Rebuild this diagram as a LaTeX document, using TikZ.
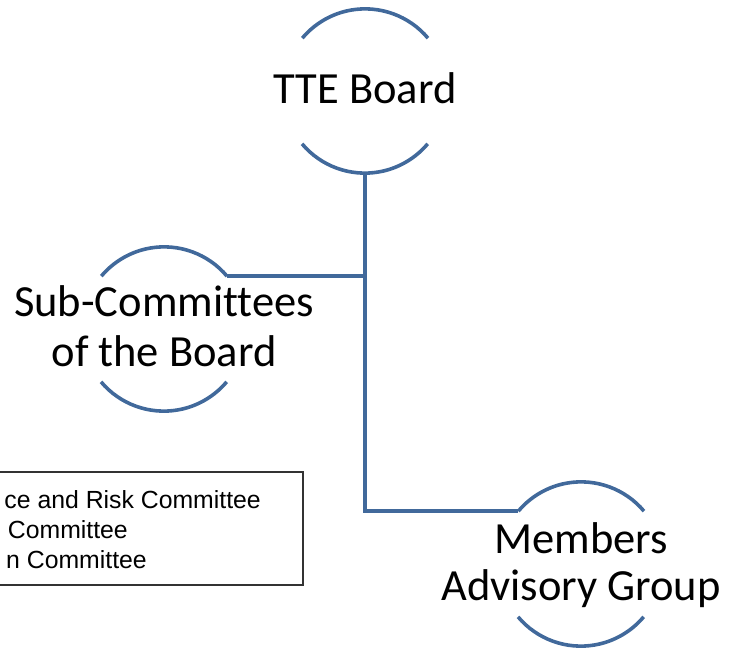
\documentclass[tikz,border=0pt]{standalone}
\usepackage{fontspec}
\setmainfont{Carlito}[Ligatures=NoCommon]
\newfontfamily\arialfont{Liberation Sans}
\definecolor{orgblue}{RGB}{65,105,155}
\begin{document}
\begin{tikzpicture}[x=1pt,y=1pt,
  ring/.style={circle,minimum size=164pt,inner sep=0pt},
  rim/.style={draw=orgblue,line width=3.6pt},
  link/.style={draw=orgblue,line width=3.6pt},
  label/.style={inner sep=0pt,anchor=base,font=\fontsize{44.5}{48}\selectfont},
  listtext/.style={inner sep=0pt,anchor=base east,font=\arialfont\fontsize{24.8}{30}\selectfont},
]
\useasboundingbox (0,0) rectangle (729,649);
\clip (0,0) rectangle (729,649);

% circles holding the three groups
\node[ring] (tte) at (365,558) {};
\node[ring] (sub) at (164,320) {};
\node[ring] (mag) at (581,85) {};

% open arcs above and below each group
\foreach \n in {tte,sub,mag}{
  \draw[rim] (\n.40) arc[start angle=40,end angle=140,radius=82pt];
  \draw[rim] (\n.220) arc[start angle=220,end angle=320,radius=82pt];
}

% group titles
\node[label] (tteA) at (365,545) {TTE Board};
\node[label] (subA) at (164,332) {Sub-Committees};
\node[label] (subB) at (164,282) {of the Board};
\node[label] (magA) at (581,96) {Members};
\node[label] (magB) at (581,49) {Advisory Group};

% reporting lines
\draw[link] (tte.south) |- (mag.140);
\draw[link] (sub.40) -- (sub.40 -| tte.south);

% list of committees
\node[draw=black!80,line width=1.2pt,minimum width=312pt,minimum height=113pt,inner sep=0pt] (box) at (147,120.5) {};
\node[listtext] (c1) at (261,141) {ce and Risk Committee};
\node[listtext] (c2) at (128,111) {Committee};
\node[listtext] (c3) at (147,81) {n Committee};
\end{tikzpicture}
\end{document}
